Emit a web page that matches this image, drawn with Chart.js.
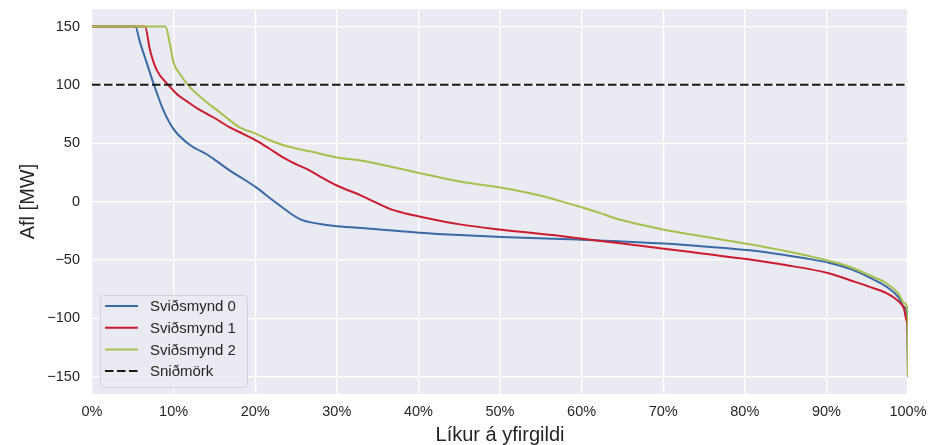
<!DOCTYPE html>
<html>
<head>
<meta charset="utf-8">
<script src="https://cdn.jsdelivr.net/npm/chart.js@4.4.1/dist/chart.umd.min.js"></script>
<style>
  html, body { margin: 0; padding: 0; background: #ffffff; }
  #wrap { width: 931px; height: 445px; }
</style>
</head>
<body>
<div id="wrap"><canvas id="aflChart" width="931" height="445"></canvas></div>
<script>
// Sviðsmynd 0
const s0X = [0, 5.3, 5.9, 6.7, 7.5, 8.7, 10, 11.6, 12.8, 14, 15.5, 16.9, 18.5, 20.2, 22.2, 23.5, 24.7, 25.6, 26.7, 28.3, 30, 34.1, 40.1, 45, 50.2, 57.4, 60.1, 65, 70.1, 75, 80.6, 85, 88, 90.4, 92.9, 95.3, 97.4, 98.8, 99.5, 99.9, 100];
const s0Y = [150, 150, 136, 119, 102, 79, 62, 50.6, 45, 40.7, 33.5, 26.5, 19.5, 11.7, 0.8, -6, -12, -15.5, -17.7, -19.7, -21.3, -23.3, -26.7, -28.8, -30.5, -32.2, -32.7, -34.3, -36.1, -38.5, -41.8, -46, -49.4, -52.7, -57.8, -65.2, -73.2, -81.7, -90.2, -97.3, -150];

// Sviðsmynd 1
const s1X = [0, 6.5, 7.1, 7.9, 9.4, 10.5, 11.6, 13.2, 14.9, 16.9, 18.5, 20.2, 21.8, 23.4, 25, 26.7, 28.3, 30, 32.8, 34.1, 36.5, 38.3, 40.1, 45.1, 50.2, 57.4, 60.1, 65, 70.1, 75, 80.6, 85, 90.4, 92.9, 95.3, 97.4, 98.8, 99.5, 99.8, 99.96, 100];
const s1Y = [150, 150, 130, 113, 99.6, 91.5, 86, 78.5, 72, 63.5, 58, 52, 45, 37.8, 32, 26.5, 20, 13.7, 5.7, 1.4, -6.3, -10, -12.8, -19.6, -24.2, -29.6, -31.9, -36, -40.4, -44.8, -49.8, -54.5, -61.7, -67.5, -73.2, -78.8, -85.4, -91.6, -101.6, -113, -150];

// Sviðsmynd 2
const s2X = [0, 9.0, 9.6, 10, 10.8, 11.8, 13.6, 15.7, 16.9, 18.1, 20.2, 21.8, 23.4, 25, 26.7, 30, 32.8, 36.5, 40.1, 45.1, 47.5, 50.2, 52.5, 54.9, 57.4, 60.2, 62.3, 64.3, 67, 70.1, 75.3, 80.6, 85, 88, 90.4, 92.9, 95.3, 97.4, 98.8, 99.6, 99.96, 100];
const s2Y = [150, 150, 133, 119, 109, 99.6, 87.7, 76.3, 69.5, 63.5, 57.8, 52.5, 48.4, 45.5, 43, 37.8, 35.3, 30, 24.5, 17.1, 14.5, 11.7, 8.8, 5.1, 0.3, -5.4, -10, -14.8, -19.5, -24.2, -30.5, -36.7, -42.5, -47, -51, -56.1, -63.2, -70.3, -78.8, -87.4, -94.5, -150];

// Sniðmörk
const limitX = [0, 100];
const limitY = [100, 100];

const seriesNames = ['Sviðsmynd 0', 'Sviðsmynd 1', 'Sviðsmynd 2', 'Sniðmörk'];
const xTicks = [0, 10, 20, 30, 40, 50, 60, 70, 80, 90, 100];
const yTicks = [-150, -100, -50, 0, 50, 100, 150];

const FONT = '"Liberation Sans", Arial, sans-serif';
const TEXT = '#262626';

const toPoints = (xs, ys) => xs.map((x, i) => ({ x: x, y: ys[i] }));

// grey plot background, drawn under the grid
const plotBg = {
  id: 'plotBg',
  beforeDraw(chart) {
    const { ctx, chartArea: a } = chart;
    ctx.save();
    ctx.fillStyle = '#eaeaf2';
    ctx.fillRect(a.left, a.top, a.right - a.left, a.bottom - a.top);
    ctx.restore();
  }
};

// legend box inside the lower left corner of the plot
const innerLegend = {
  id: 'innerLegend',
  afterDraw(chart) {
    const { ctx, chartArea: a } = chart;
    const x0 = a.left + 8, y0 = a.bottom - 99, w = 147, h = 92;
    ctx.save();
    ctx.beginPath();
    ctx.roundRect(x0 + 0.5, y0 + 0.5, w, h, 3);
    ctx.fillStyle = 'rgba(234,234,242,0.8)';
    ctx.fill();
    ctx.strokeStyle = '#d2d2da';
    ctx.lineWidth = 1;
    ctx.stroke();

    ctx.font = '15px ' + FONT;
    ctx.textBaseline = 'middle';
    ctx.textAlign = 'left';
    chart.data.datasets.forEach((ds, i) => {
      const y = y0 + 11 + i * 21.7;
      ctx.beginPath();
      ctx.setLineDash(ds.borderDash || []);
      ctx.strokeStyle = ds.borderColor;
      ctx.lineWidth = ds.borderWidth;
      ctx.moveTo(x0 + 5, y);
      ctx.lineTo(x0 + 38, y);
      ctx.stroke();
      ctx.setLineDash([]);
      ctx.fillStyle = TEXT;
      ctx.fillText(ds.label, x0 + 50, y + 1);
    });
    ctx.restore();
  }
};

const lineStyle = {
  borderWidth: 2,
  pointRadius: 0,
  fill: false,
  cubicInterpolationMode: 'monotone'
};

new Chart(document.getElementById('aflChart'), {
  type: 'line',
  data: {
    datasets: [
      { ...lineStyle, label: seriesNames[0], data: toPoints(s0X, s0Y), borderColor: '#3a6aa6', order: 3 },
      { ...lineStyle, label: seriesNames[1], data: toPoints(s1X, s1Y), borderColor: '#cc1b2c', order: 2 },
      { ...lineStyle, label: seriesNames[2], data: toPoints(s2X, s2Y), borderColor: '#a7c04d', order: 1 },
      { ...lineStyle, label: seriesNames[3], data: toPoints(limitX, limitY), borderColor: '#1a1a1a',
        borderDash: [8.5, 3.5], cubicInterpolationMode: 'default', tension: 0, order: 0 }
    ]
  },
  options: {
    responsive: false,
    animation: false,
    layout: { padding: { top: 9, right: 23, left: 0, bottom: 0 } },
    plugins: {
      legend: { display: false },
      tooltip: { enabled: false }
    },
    scales: {
      x: {
        type: 'linear',
        min: 0,
        max: 100,
        afterBuildTicks: (scale) => { scale.ticks = xTicks.map(v => ({ value: v })); },
        afterFit: (scale) => {
          // fixed axis band, no extra room reserved for end labels
          scale.height = 51;
          scale.paddingLeft = 0;
          scale.paddingRight = 0;
        },
        grid: { color: '#ffffff', lineWidth: 1.3, drawTicks: false },
        border: { display: false },
        ticks: {
          padding: 9,
          color: TEXT,
          font: { family: FONT, size: 14.5 },
          maxRotation: 0,
          callback: (v) => v + '%'
        },
        title: {
          display: true,
          text: 'Líkur á yfirgildi',
          color: TEXT,
          font: { family: FONT, size: 20, lineHeight: 1 },
          padding: { top: 0, bottom: 0 }
        }
      },
      y: {
        type: 'linear',
        min: -165,
        max: 165,
        afterBuildTicks: (scale) => { scale.ticks = yTicks.map(v => ({ value: v })); },
        afterFit: (scale) => {
          scale.width = 92;
          scale.paddingTop = 0;
          scale.paddingBottom = 0;
        },
        grid: { color: '#ffffff', lineWidth: 1.3, drawTicks: false },
        border: { display: false },
        ticks: {
          padding: 12,
          color: TEXT,
          font: { family: FONT, size: 14.5 },
          callback: (v) => (v < 0 ? '\u2212' + Math.abs(v) : String(v))
        },
        title: {
          display: true,
          text: 'Afl [MW]',
          color: TEXT,
          font: { family: FONT, size: 20, lineHeight: 1.2 },
          padding: { top: 16, bottom: 0 }
        }
      }
    }
  },
  plugins: [plotBg, innerLegend]
});
</script>
</body>
</html>
